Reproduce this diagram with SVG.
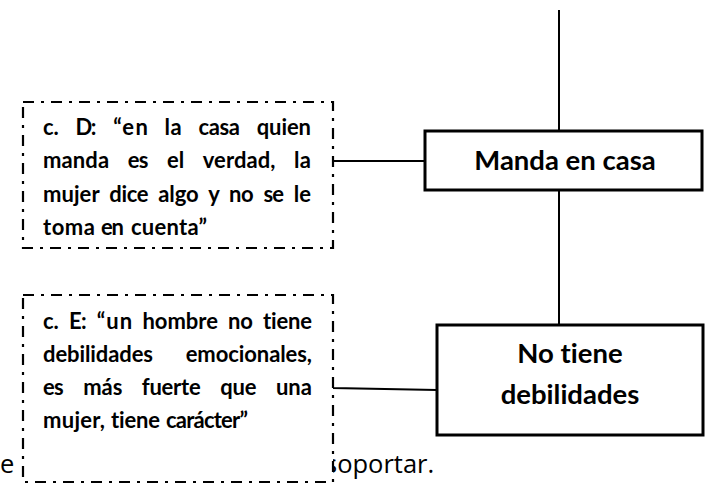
<svg xmlns="http://www.w3.org/2000/svg" width="709" height="492" viewBox="0 0 709 492">
<style>
.bg{font-family:"Open Sans","Liberation Sans",sans-serif;font-size:25.5px;fill:#000}
.note{fill:#fff;stroke:#000;stroke-width:2.2;stroke-dasharray:11 7 3 7}
.nt{font-family:Lato,"Liberation Sans",sans-serif;font-weight:bold;font-size:22px;fill:#000;font-variant-ligatures:none}
.box{fill:#fff;stroke:#000;stroke-width:3}
.bt{font-family:Lato,"Liberation Sans",sans-serif;font-weight:bold;font-size:27.5px;fill:#000;text-anchor:middle;font-variant-ligatures:none}
.ln{stroke:#000;stroke-width:2;fill:none}
</style>
<rect width="709" height="492" fill="#fff"/>
<text class="bg" x="0" y="473">e</text>
<text class="bg" x="325" y="473">soportar.</text>
<g id="connectors">
<line class="ln" x1="559" y1="10" x2="559" y2="131"/>
<line class="ln" x1="559" y1="190" x2="559" y2="325"/>
<line class="ln" x1="333" y1="161" x2="425" y2="161" stroke-width="1.5"/>
<polyline class="ln" points="333,384 333,388 437,390"/>
</g>
<g id="note-d">
<rect class="note" x="23" y="102" width="310" height="146"/>
<text class="nt" y="135"><tspan x="43" textLength="15.8">c.</tspan><tspan x="75.6" textLength="20.8">D:</tspan><tspan x="113.2" textLength="34.6">“en</tspan><tspan x="164.6" textLength="17">la</tspan><tspan x="198.4" textLength="41.5">casa</tspan><tspan x="256.7" textLength="54.3">quien</tspan></text>
<text class="nt" y="168"><tspan x="43" textLength="66.1">manda</tspan><tspan x="127.7" textLength="20.7">es</tspan><tspan x="167" textLength="17.2">el</tspan><tspan x="202.8" textLength="72.6">verdad,</tspan><tspan x="294" textLength="17">la</tspan></text>
<text class="nt" y="202"><tspan x="43" textLength="56.6">mujer</tspan><tspan x="109.3" textLength="39.2">dice</tspan><tspan x="158.3" textLength="40.3">algo</tspan><tspan x="208.3" textLength="10.9">y</tspan><tspan x="228.9" textLength="24.7">no</tspan><tspan x="263.4" textLength="20.7">se</tspan><tspan x="293.8" textLength="17.2">le</tspan></text>
<text class="nt" y="235"><tspan x="43" textLength="52">toma</tspan><tspan x="101" textLength="23">en</tspan><tspan x="131" textLength="76">cuenta”</tspan></text>
</g>
<g id="note-e">
<rect class="note" x="23" y="295" width="310" height="187"/>
<text class="nt" y="329"><tspan x="43" textLength="15.8">c.</tspan><tspan x="69" textLength="17.6">E:</tspan><tspan x="96.8" textLength="35.4">“un</tspan><tspan x="142.4" textLength="75.5">hombre</tspan><tspan x="228.1" textLength="24.7">no</tspan><tspan x="263" textLength="49">tiene</tspan></text>
<text class="nt" y="362"><tspan x="43" textLength="110">debilidades</tspan><tspan x="185.7" textLength="126.3">emocionales,</tspan></text>
<text class="nt" y="395"><tspan x="43" textLength="20.7">es</tspan><tspan x="83.2" textLength="39.2">más</tspan><tspan x="141.8" textLength="58.9">fuerte</tspan><tspan x="220.2" textLength="36.3">que</tspan><tspan x="275.9" textLength="36.1">una</tspan></text>
<text class="nt" y="428"><tspan x="43" textLength="62">mujer,</tspan><tspan x="111" textLength="49">tiene</tspan><tspan x="166" textLength="82">carácter”</tspan></text>
</g>
<g id="manda">
<rect class="box" x="425" y="131" width="277" height="59"/>
<text class="bt" x="565" y="170">Manda en casa</text>
</g>
<g id="no-tiene">
<rect class="box" x="437" y="325" width="266" height="110"/>
<text class="bt" x="570" y="363">No tiene</text>
<text class="bt" x="570" y="404">debilidades</text>
</g>
</svg>
